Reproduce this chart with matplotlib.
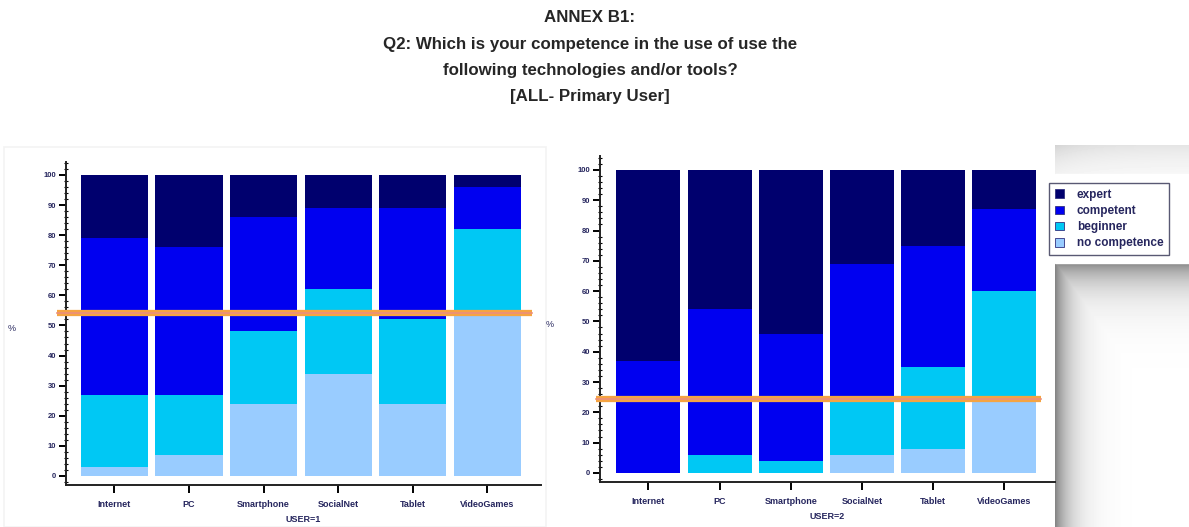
import numpy as np
import matplotlib
matplotlib.use('Agg')
import matplotlib.pyplot as plt
from matplotlib.patches import Patch, Rectangle
from matplotlib.ticker import MultipleLocator

plt.rcParams['font.family'] = ['Liberation Sans', 'DejaVu Sans']

# Competence levels per technology (% of primary users)
categories = ['Internet', 'PC', 'Smartphone', 'SocialNet', 'Tablet', 'VideoGames']
levels = ['no competence', 'beginner', 'competent', 'expert']

user1_none = [3, 7, 24, 34, 24, 53]
user1_beginner = [24, 20, 24, 28, 28, 29]
user1_competent = [52, 49, 38, 27, 37, 14]
user1_expert = [21, 24, 14, 11, 11, 4]

user2_none = [0, 0, 0, 6, 8, 24]
user2_beginner = [0, 6, 4, 18, 27, 36]
user2_competent = [37, 48, 42, 45, 40, 27]
user2_expert = [63, 46, 54, 31, 25, 13]

# reference level drawn across each panel
user1_ref = 54.3
user2_ref = 24.4

colors = {'no competence': '#99ccff', 'beginner': '#00c8f4',
          'competent': '#0000f0', 'expert': '#00006e'}
text_col = '#26265e'

W, H = 1189, 527
fig = plt.figure(figsize=(W / 100, H / 100), dpi=100)
fig.patch.set_facecolor('white')


def px_axes(x0, x1, ytop, ybot):
    return fig.add_axes([x0 / W, 1 - ybot / H, (x1 - x0) / W, (ybot - ytop) / H])


def draw_panel(ax, series, ref, xlabel, xlim, ylim, ref_span, ylab_x):
    x = np.arange(len(categories))
    bottom = np.zeros(len(categories))
    for name, vals in zip(levels, series):
        ax.bar(x, vals, width=0.9, bottom=bottom, color=colors[name],
               edgecolor='none', zorder=2)
        bottom += np.array(vals)
    # orange reference line
    ax.plot(ref_span, [ref, ref], color='#f5a442', lw=4.5, zorder=4,
            solid_capstyle='butt', clip_on=False)
    ax.plot(ref_span, [ref, ref], color='#ec8f7c', lw=1.2, zorder=5,
            clip_on=False)
    ax.set_xlim(*xlim)
    ax.set_ylim(*ylim)
    for s in ['top', 'right']:
        ax.spines[s].set_visible(False)
    for s in ['left', 'bottom']:
        ax.spines[s].set_linewidth(1.4)
        ax.spines[s].set_color('#222222')
    ax.set_xticks(x)
    ax.set_xticklabels(categories, fontsize=6.5, color=text_col, fontweight='bold')
    ax.yaxis.set_major_locator(MultipleLocator(10))
    ax.yaxis.set_minor_locator(MultipleLocator(2))
    ax.tick_params(axis='y', which='major', length=5, width=1.4,
                   labelsize=5.5, labelcolor=text_col, pad=2)
    for t in ax.get_yticklabels():
        t.set_fontweight('bold')
    ax.tick_params(axis='y', which='minor', length=2.5, width=0.8,
                   direction='inout')
    ax.tick_params(axis='x', length=6, width=1.4, pad=5)
    ax.set_xlabel(xlabel, fontsize=6.5, color=text_col, fontweight='bold', labelpad=4)
    ax.set_ylabel('%', fontsize=6.5, color=text_col, rotation=0)
    ax.yaxis.set_label_coords(ylab_x, 0.47)


# faint frame round the first chart
fig.add_artist(Rectangle((4 / W, 0), 542 / W, 1 - 147 / H, transform=fig.transFigure,
                         fill=False, edgecolor='#f3f3f3', lw=1.2, zorder=-2))

# left panel, USER=1
ax1 = px_axes(66, 541, 162, 485)
draw_panel(ax1, [user1_none, user1_beginner, user1_competent, user1_expert],
           user1_ref, 'USER=1', (-0.65, 5.72), (-3, 104.3), (-0.77, 5.6),
           -54 / 475)

# right panel, USER=2
ax2 = px_axes(600, 1055, 156, 482)
draw_panel(ax2, [user2_none, user2_beginner, user2_competent, user2_expert],
           user2_ref, 'USER=2', (-0.68, 5.71), (-3, 104.6), (-0.74, 5.51),
           -50 / 455)

# drop shadow to the right of the second panel
sh = fig.add_axes([1055 / W, 0, (W - 1055) / W, 1 - 145 / H], zorder=-1)
sw, shh = W - 1055, 527 - 145
xx, yy = np.meshgrid(np.arange(sw), np.arange(shh))
dark = np.maximum(np.exp(-xx / 16.0), np.exp(-np.clip(yy - 117, 0, None) / 22.0) * (yy >= 117))
dark = np.where(yy < 30, 0.35 * np.exp(-yy / 25.0) * (0.6 + 0.4 * np.exp(-xx / 30.0)), dark)
img = 1 - 0.48 * dark
sh.imshow(img, cmap='gray', vmin=0, vmax=1, aspect='auto', interpolation='bilinear')
sh.add_patch(Rectangle((-0.5, 28), sw, 89, color='white'))
sh.set_axis_off()

# legend box
handles = [Patch(facecolor=colors[n], edgecolor='#303080', linewidth=0.6, label=n)
           for n in ['expert', 'competent', 'beginner', 'no competence']]
leg = fig.legend(handles=handles, loc='upper left',
                 bbox_to_anchor=(1049 / W, 1 - 183 / H), bbox_transform=fig.transFigure,
                 prop={'size': 8.5, 'weight': 'bold'}, frameon=True, fancybox=False,
                 edgecolor='#303050', handlelength=0.75, handleheight=0.75,
                 handletextpad=1.1, labelspacing=0.35, borderpad=0.5,
                 borderaxespad=0, labelcolor=text_col)
leg.get_frame().set_linewidth(1.0)

# title block
title_lines = ['ANNEX B1:',
               'Q2: Which is your competence in the use of use the',
               'following technologies and/or tools?',
               '[ALL- Primary User]']
for line, yc in zip(title_lines, [17, 44, 70, 97]):
    fig.text(590 / W, 1 - yc / H, line, ha='center', va='center',
             fontsize=12.2, fontweight='bold', color='#262626')

fig.savefig('out.png', dpi=100, facecolor='white')
